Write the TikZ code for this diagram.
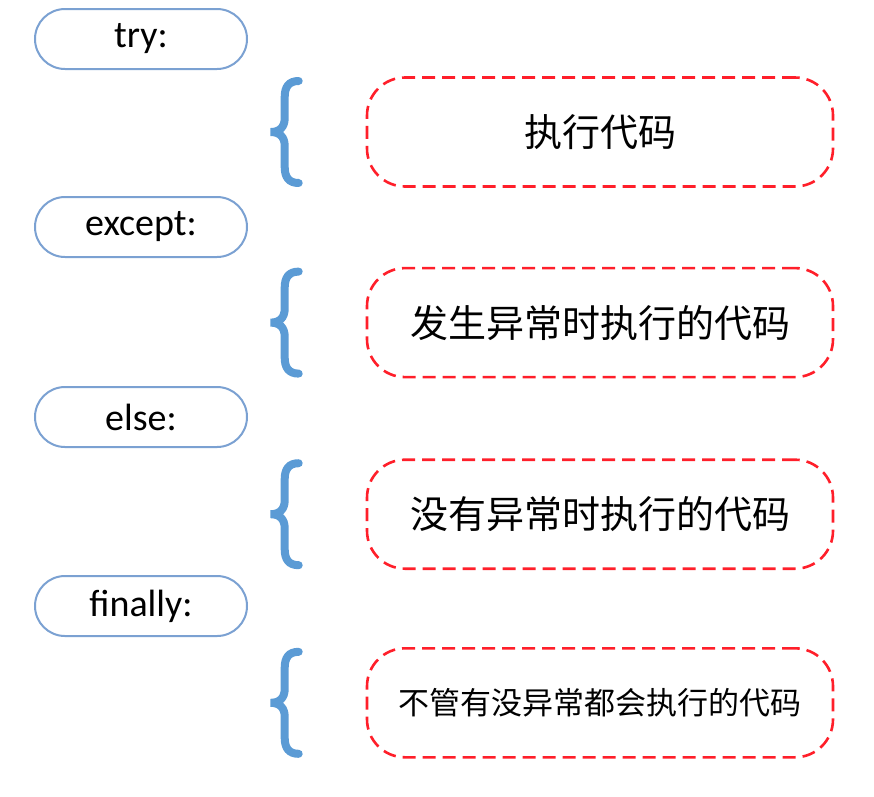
\documentclass[tikz,border=0pt]{standalone}
\usepackage{fontspec}
\setmainfont{Carlito}
\newfontfamily\cjk{Noto Sans CJK SC}
\usetikzlibrary{positioning}
\definecolor{kwblue}{HTML}{7BA1D2}
\definecolor{braceblue}{HTML}{5B9BD5}
\definecolor{codered}{HTML}{FF1F2A}
\begin{document}
\begin{tikzpicture}[x=1pt, y=-1pt,
  keyword/.style={rectangle, draw=kwblue, line width=2pt, fill=white, rounded corners=30pt, minimum width=212pt, minimum height=60pt, font=\fontsize{38}{44}\selectfont},
  codebox/.style={rectangle, draw=codered, line width=2.6pt, dash pattern=on 13pt off 7pt, rounded corners=38pt, minimum width=466pt, minimum height=109pt, font=\cjk\fontsize{38}{44}\selectfont},
  lbrace/.pic={\draw[braceblue, line width=8pt, line cap=round] (14,-51) .. controls (4,-51) and (0,-45) .. (0,-35) -- (0,-14) .. controls (0,-5) and (-5,0) .. (-14,0) .. controls (-5,0) and (0,5) .. (0,14) -- (0,35) .. controls (0,45) and (4,51) .. (14,51);}]
  \useasboundingbox (0,0) rectangle (874,796);

  % Schluesselwoerter links
  \node [keyword] (try) at (141,39) {try:};
  \node [keyword, below=126pt of try] (except) {except:};
  \node [keyword, below=128pt of except] (else) {else:};
  \node [keyword, below=127pt of else] (finally) {finally:};

  % Codebloecke rechts
  \node [codebox] (code1) at (600,132) {执行代码};
  \node [codebox, below=79pt of code1] (code2) {发生异常时执行的代码};
  \node [codebox, below=80pt of code2] (code3) {没有异常时执行的代码};
  \node [codebox, below=77pt of code3, font=\cjk\fontsize{31}{38}\selectfont] (code4) {不管有没异常都会执行的代码};

  % Klammern
  \foreach \c in {code1, code2, code3, code4}
    \pic at ([xshift=-81pt]\c.west) {lbrace};
\end{tikzpicture}
\end{document}
